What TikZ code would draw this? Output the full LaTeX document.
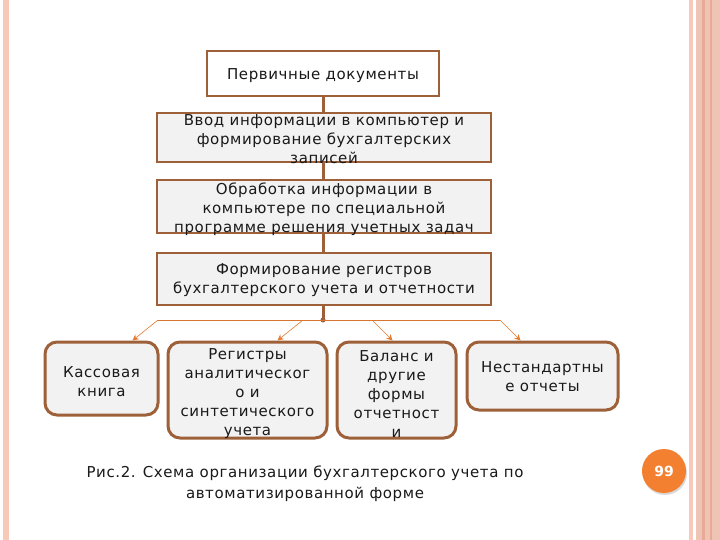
\documentclass[tikz,border=0pt]{standalone}
\usepackage{fontspec}
\setmainfont{DejaVu Sans}[LetterSpace=4]
\newfontfamily\badgefont{DejaVu Sans}
\usetikzlibrary{arrows.meta, positioning, calc}
\definecolor{boxbrown}{RGB}{158,96,56}
\definecolor{boxgray}{RGB}{242,242,242}
\definecolor{arrorange}{RGB}{230,122,46}
\definecolor{stripe}{RGB}{248,200,184}
\definecolor{stripeband}{RGB}{239,196,181}
\definecolor{stripedark}{RGB}{230,170,150}
\definecolor{badge}{RGB}{243,128,48}

\begin{document}
\begin{tikzpicture}[x=1pt,y=-1pt,
    box/.style={draw=boxbrown, line width=2.5pt, fill=boxgray, inner sep=0pt},
    rbox/.style={box, rounded corners=12pt, line width=3pt},
    txt/.style={align=center, font=\fontsize{15}{19}\selectfont, inner sep=0pt, text=black!90},
    link/.style={draw=boxbrown, line width=3pt},
    arr/.style={draw=arrorange, line width=0.6pt, -{Stealth[length=6pt,width=6pt]}}]
    \useasboundingbox[fill=white] (0,0) rectangle (720,540);
    \fill[stripe] (3,0) rectangle (9,540);
    \fill[stripe] (689,0) rectangle (693,540);
    \fill[stripeband] (696,0) rectangle (720,540);
    \fill[stripedark] (702,0) rectangle (705,540);
    \fill[stripedark] (710,0) rectangle (712,540);

    \node[box, fill=white, minimum width=232pt, minimum height=45pt] (b1) at (323,73.5) {};
    \node[box, minimum width=334pt, minimum height=49pt] (b2) at (324,137.5) {};
    \node[box, minimum width=334pt, minimum height=53pt] (b3) at (324,206.5) {};
    \node[box, minimum width=334pt, minimum height=52pt] (b4) at (324,279) {};
    \node[txt] (t1) at ([yshift=-2pt]b1.center) {Первичные документы};
    \node[txt] (t2) at ([yshift=-2pt]b2.center) {Ввод информации в компьютер и\\формирование бухгалтерских\\записей};
    \node[txt] (t3) at ([yshift=-3pt]b3.center) {Обработка информации в\\компьютере по специальной\\программе решения учетных задач};
    \node[txt] (t4) at ([yshift=-1pt]b4.center) {Формирование регистров\\бухгалтерского учета и отчетности};

    \draw[link] (b1.south -| 323,0) -- (b2.north -| 323,0);
    \draw[link] (b2.south -| 323,0) -- (b3.north -| 323,0);
    \draw[link] (b3.south -| 323,0) -- (b4.north -| 323,0);
    \coordinate (hub) at (323,320);
    \draw[link] (b4.south -| hub) -- (hub);
    \fill[boxbrown] (hub) circle (2.5pt);

    \node[rbox, minimum width=113pt, minimum height=73pt] (c1) at (101.5,378.5) {};
    \node[rbox, minimum width=159pt, minimum height=96pt] (c2) at (247.5,390) {};
    \node[rbox, minimum width=119pt, minimum height=96pt] (c3) at (396.5,390) {};
    \node[rbox, minimum width=151pt, minimum height=68pt] (c4) at (542.5,376) {};
    \node[txt] (s1) at ([yshift=-3pt]c1.center) {Кассовая\\книга};
    \node[txt] (s2) at ([yshift=-4pt]c2.center) {Регистры\\аналитическог\\о и\\синтетического\\учета};
    \node[txt] (s3) at ([yshift=-4pt]c3.center) {Баланс и\\другие\\формы\\отчетност\\и};
    \node[txt] (s4) at ([yshift=-1pt]c4.center) {Нестандартны\\е отчеты};

    \coordinate (j1) at (158,320);
    \coordinate (j2) at (303,320);
    \coordinate (j3) at (372,320);
    \coordinate (j4) at (500,320);
    \draw[arrorange!80!boxbrown, line width=0.7pt] (j1) -- (j4);
    \draw[arr] (j1) -- ([xshift=31pt]c1.north);
    \draw[arr] (j2) -- ([xshift=30pt]c2.north);
    \draw[arr] (j3) -- ([xshift=-4pt]c3.north);
    \draw[arr] (j4) -- ([xshift=-22pt]c4.north);

    \node[txt, font=\fontsize{15}{21}\selectfont] (cap) at (305,484) {Рис.2. Схема организации бухгалтерского учета по\\автоматизированной форме};

    \fill[black!15] (665,473) circle (22pt);
    \node[circle, fill=badge, minimum size=44pt, inner sep=0pt, text=white, font=\badgefont\bfseries\fontsize{14}{14}\selectfont] (page) at (664,471) {99};
\end{tikzpicture}
\end{document}
